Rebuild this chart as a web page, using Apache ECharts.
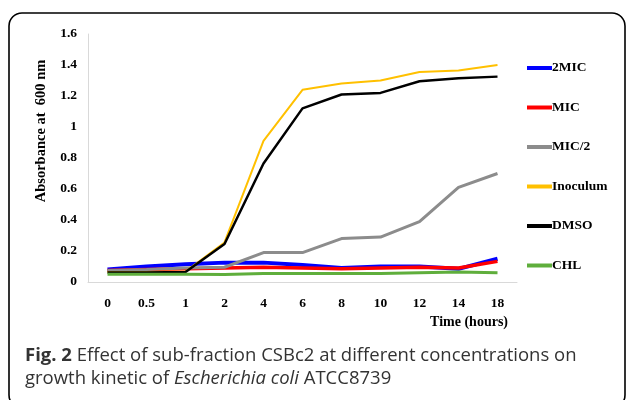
<!DOCTYPE html>
<html><head><meta charset="utf-8">
<script src="https://cdn.jsdelivr.net/npm/echarts@6/dist/echarts.min.js"></script>
<style>html,body{margin:0;padding:0;background:#fff}#c{width:627px;height:400px}</style>
</head><body><div id="c"></div>
<script>
const categories = ['0','0.5','1','2','4','6','8','10','12','14','18'];
const mic2x   = [0.08, 0.10, 0.115, 0.125, 0.125, 0.11, 0.09, 0.10, 0.10, 0.085, 0.15];
const mic     = [0.075, 0.08, 0.085, 0.09, 0.095, 0.09, 0.085, 0.09, 0.095, 0.09, 0.133];
const micHalf = [0.075, 0.08, 0.09, 0.095, 0.19, 0.19, 0.28, 0.29, 0.39, 0.61, 0.70];
const inoculum= [0.065, 0.065, 0.068, 0.255, 0.91, 1.24, 1.28, 1.30, 1.355, 1.365, 1.40];
const dmso    = [0.062, 0.062, 0.065, 0.245, 0.765, 1.12, 1.21, 1.22, 1.295, 1.315, 1.325];
const chl     = [0.05, 0.05, 0.05, 0.048, 0.055, 0.055, 0.055, 0.055, 0.06, 0.065, 0.06];
const yTicks = [0, 0.2, 0.4, 0.6, 0.8, 1, 1.2, 1.4, 1.6];

const serif = '"Liberation Serif","Times New Roman",serif';
const capFont = '"Open Sans","Noto Sans",sans-serif';
const capSize = 18.5;
const capColor = '#333';
const chart = echarts.init(document.getElementById('c'), null, {renderer:'canvas'});
function s(name, data, color, width){
  return {name, type:'line', data, symbol:'none', smooth:false,
    lineStyle:{color, width}, itemStyle:{color}};
}
chart.setOption({
  animation:false,
  grid:{left:88, right:110, top:34, bottom:118},
  xAxis:{type:'category', data:categories, boundaryGap:true,
    name:'Time (hours)', nameLocation:'end', nameGap:0,
    nameTextStyle:{fontFamily:serif, fontWeight:'bold', fontSize:14, color:'#000', align:'right', verticalAlign:'top', padding:[33,9,0,0]},
    axisLine:{lineStyle:{color:'#d9d9d9', width:1}}, axisTick:{show:false},
    axisLabel:{fontFamily:serif, fontWeight:'bold', fontSize:13.5, color:'#000', margin:15}},
  yAxis:{type:'value', min:0, max:1.6, interval:0.2,
    name:'Absorbance at  600 nm', nameLocation:'middle', nameGap:39, nameRotate:90,
    nameTextStyle:{fontFamily:serif, fontWeight:'bold', fontSize:14.5, color:'#000', padding:[0,0,0,54]},
    axisLine:{show:true, lineStyle:{color:'#d9d9d9', width:1}}, axisTick:{show:false},
    splitLine:{show:false},
    axisLabel:{fontFamily:serif, fontWeight:'bold', fontSize:13.5, color:'#000', margin:11,
      formatter:v=>{const t=yTicks.find(x=>Math.abs(x-v)<1e-6); return t===undefined?'':String(t);}}},
  legend:{orient:'vertical', left:522, top:56, itemWidth:25, itemHeight:4, itemGap:25.5, icon:'rect',
    textStyle:{fontFamily:serif, fontWeight:'bold', fontSize:13.5, color:'#000', lineHeight:14, padding:[0,0,0,-5]},
    data:['2MIC','MIC','MIC/2','Inoculum','DMSO','CHL']},
  graphic:[
    {type:'rect', shape:{x:9, y:13, width:616, height:395, r:13}, style:{fill:'none', stroke:'#000', lineWidth:1.6}, silent:true},
    {type:'text', x:25, y:356, style:{
      rich:{b:{fontWeight:'bold', fontSize:capSize, fontFamily:capFont, fill:capColor}, n:{fontSize:capSize, fontFamily:capFont, fill:capColor}},
      text:'{b|Fig. 2}{n| Effect of sub-fraction CSBc2 at different concentrations on}', verticalAlign:'middle', fontSize:capSize, fontFamily:capFont, fill:capColor}},
    {type:'text', x:25, y:379, style:{
      rich:{i:{fontStyle:'italic', fontSize:capSize, fontFamily:capFont, fill:capColor}, n:{fontSize:capSize, fontFamily:capFont, fill:capColor}},
      text:'{n|growth kinetic of }{i|Escherichia coli}{n| ATCC8739}', verticalAlign:'middle', fontSize:capSize, fontFamily:capFont, fill:capColor}}
  ],
  series:[
    s('2MIC', mic2x, '#0000ff', 4),
    s('MIC', mic, '#ff0000', 3.5),
    s('MIC/2', micHalf, '#8c8c8c', 3),
    s('Inoculum', inoculum, '#ffc000', 2),
    s('DMSO', dmso, '#000000', 2.5),
    s('CHL', chl, '#5fae3c', 3)
  ]
});
</script></body></html>
